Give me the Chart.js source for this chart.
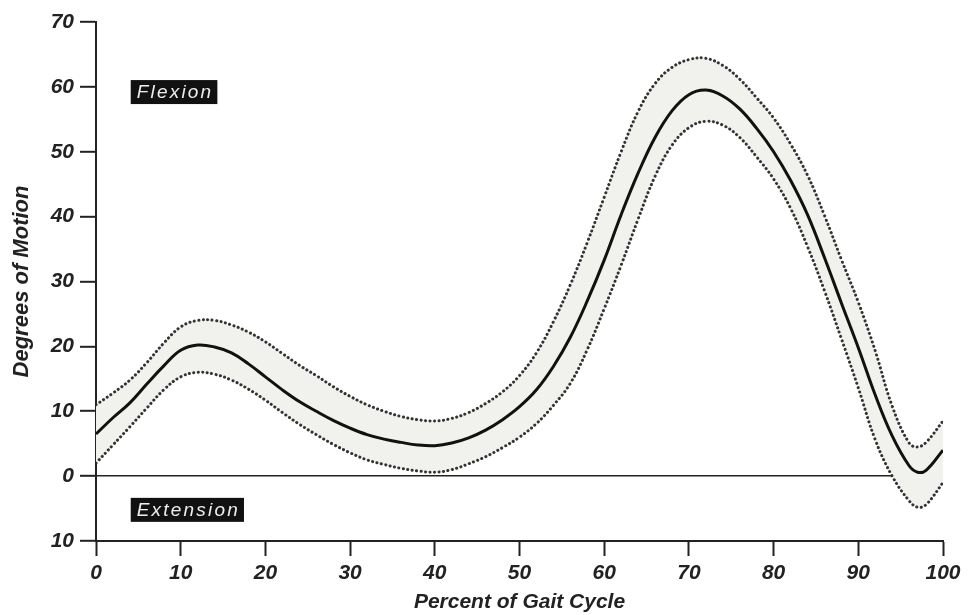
<!DOCTYPE html>
<html>
<head>
<meta charset="utf-8">
<script src="https://cdn.jsdelivr.net/npm/chart.js@4.4.1/dist/chart.umd.min.js"></script>
<style>
  html, body { margin: 0; padding: 0; background: #fff; }
  #wrap { width: 973px; height: 615px; }
</style>
</head>
<body>
<div id="wrap"><canvas id="chart_knee"></canvas></div>
<script>
// percent of gait cycle
const gaitPct  = [0, 2, 4, 6, 8, 10, 12, 14, 16, 18, 20, 22, 24, 26, 28, 30, 32, 34, 36, 38, 40, 42, 44, 46, 48, 50, 52, 54, 56, 58, 60, 62, 64, 66, 68, 70, 72, 74, 76, 78, 80, 82, 84, 86, 88, 90, 92, 94, 96, 97, 98, 100]
// mean knee angle (degrees)
const meanDeg  = [6.5, 9, 11.3, 14.2, 17, 19.4, 20.2, 19.9, 19, 17.3, 15.3, 13.3, 11.5, 10, 8.6, 7.4, 6.4, 5.7, 5.2, 4.8, 4.7, 5.1, 5.9, 7.1, 8.7, 10.7, 13.3, 16.9, 21.4, 27, 33.3, 40.3, 46.7, 52.2, 56.3, 58.8, 59.5, 58.6, 56.6, 53.6, 50, 45.6, 40.3, 33.7, 26.7, 19.8, 12.5, 6.2, 1.6, 0.6, 0.9, 4]
// +1 SD
const upperDeg = [11, 12.8, 14.8, 17.5, 20.5, 23, 24, 24, 23.3, 22.2, 20.7, 18.9, 17.1, 15.5, 13.8, 12.3, 11, 10, 9.2, 8.7, 8.5, 8.9, 9.8, 11.2, 13, 15.5, 19, 23.8, 29.5, 36, 43, 50, 56.2, 60.5, 63, 64.2, 64.4, 63.3, 61.2, 58.3, 55.2, 51.2, 46.4, 40.2, 33.4, 26.8, 19.3, 10.8, 5.1, 4.5, 5.2, 8.5]
// -1 SD
const lowerDeg = [2, 4.8, 7.6, 10.5, 13.3, 15.3, 16, 15.7, 14.8, 13.4, 11.7, 9.8, 8, 6.4, 4.9, 3.6, 2.5, 1.8, 1.2, 0.8, 0.6, 1, 1.9, 3, 4.4, 6, 8.1, 10.9, 14.3, 19.5, 25.8, 32.5, 39.6, 46.2, 51, 53.7, 54.7, 54.1, 52.2, 49.2, 45.8, 41.3, 35.4, 28.6, 21.2, 13.6, 5.6, 0, -3.8, -4.8, -4.4, -1]

const xTicks = [0, 10, 20, 30, 40, 50, 60, 70, 80, 90, 100]
const yTicks = [-10, 0, 10, 20, 30, 40, 50, 60, 70]
const regionLabels = ['Flexion', 'Extension']

const toPts = (arr) => gaitPct.map((x, i) => ({x: x, y: arr[i]}))
const axisFont = {family: 'Liberation Sans', size: 21, weight: 'bold', style: 'italic'}

// black boxes with "Flexion" / "Extension"
const regionBoxes = {
    id: 'regionBoxes',
    afterDatasetsDraw(chart) {
        const c = chart.ctx
        const xs = chart.scales.x, ys = chart.scales.y
        const anchors = [[4.1, 59.2], [4.1, -5.2]]
        c.save()
        c.font = 'italic 19px "Liberation Sans"'
        c.letterSpacing = '2.2px'
        c.textBaseline = 'middle'
        regionLabels.forEach((txt, i) => {
            const px = xs.getPixelForValue(anchors[i][0])
            const py = ys.getPixelForValue(anchors[i][1])
            const w = c.measureText(txt).width + 10
            c.fillStyle = '#111'
            c.fillRect(px, py - 12, w, 24)
            c.fillStyle = '#eeeeee'
            c.fillText(txt, px + 6, py + 1)
        })
        c.restore()
    }
}

const dotted = {
    borderColor: '#333',
    borderWidth: 3,
    borderDash: [0.1, 4.4],
    borderCapStyle: 'round',
    pointRadius: 0,
    tension: 0.4
}

const ctx = document.getElementById('chart_knee')

let chartKnee = new Chart(ctx, {
    type: 'line',
    data: {
        datasets: [
            Object.assign({data: toPts(upperDeg), fill: '+1', backgroundColor: '#f1f1ed'}, dotted),
            Object.assign({data: toPts(lowerDeg), fill: false}, dotted),
            {
                data: toPts(meanDeg),
                borderColor: '#111',
                borderWidth: 3,
                pointRadius: 0,
                tension: 0.4,
                fill: false
            }
        ]
    },
    options: {
        responsive: true,
        maintainAspectRatio: false,
        animation: false,
        layout: {padding: {top: 22, right: 30, left: 0, bottom: 0}},
        plugins: {
            legend: {display: false},
            tooltip: {enabled: false},
            filler: {drawTime: 'beforeDatasetsDraw'}
        },
        scales: {
            x: {
                type: 'linear',
                min: 0,
                max: 100,
                afterFit: (s) => { s.height = 74 },
                afterBuildTicks: (s) => { s.ticks = xTicks.map(v => ({value: v})) },
                border: {display: true, color: '#222', width: 2},
                grid: {
                    drawOnChartArea: false,
                    tickColor: '#222',
                    tickWidth: 2,
                    tickLength: 15
                },
                ticks: {
                    color: '#222',
                    font: axisFont,
                    padding: 5,
                    maxRotation: 0
                },
                title: {
                    display: true,
                    text: 'Percent of Gait Cycle',
                    color: '#222',
                    font: {family: 'Liberation Sans', size: 21, weight: 'bold', style: 'italic'},
                    padding: {top: 1, bottom: 0}
                }
            },
            y: {
                min: -10,
                max: 70,
                afterFit: (s) => { s.width = 96 },
                afterBuildTicks: (s) => { s.ticks = yTicks.map(v => ({value: v})) },
                border: {display: true, color: '#222', width: 2},
                grid: {
                    color: (c) => c.tick && c.tick.value === 0 ? '#222' : 'transparent',
                    lineWidth: 1.6,
                    tickColor: '#222',
                    tickWidth: 2,
                    tickLength: 16
                },
                ticks: {
                    color: '#222',
                    font: axisFont,
                    padding: 6,
                    callback: function(value) {
                        return Math.abs(value)
                    }
                },
                title: {
                    display: true,
                    text: 'Degrees of Motion',
                    color: '#222',
                    font: {family: 'Liberation Sans', size: 22, weight: 'bold', style: 'italic'},
                    padding: {top: 9, bottom: 0}
                }
            }
        }
    },
    plugins: [regionBoxes]
})
</script>
</body>
</html>
